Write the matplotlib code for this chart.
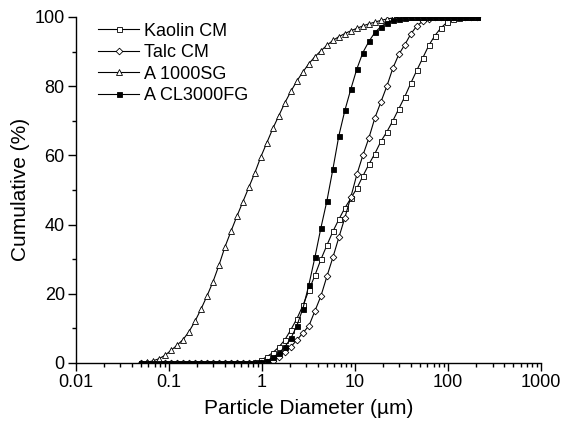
import matplotlib
matplotlib.use("Agg")
import matplotlib.pyplot as plt
from matplotlib.ticker import LogLocator, MultipleLocator, FixedLocator, FixedFormatter

plt.rcParams['font.family'] = ['Liberation Sans', 'DejaVu Sans']

diameters = [0.050, 0.058, 0.0673, 0.0780, 0.0905, 0.105, 0.1218, 0.1413, 0.1639, 0.1901,
             0.2206, 0.2559, 0.2968, 0.3443, 0.3994, 0.4633, 0.5374, 0.6234, 0.7231, 0.8388,
             0.973, 1.1287, 1.3093, 1.5188, 1.7618, 2.0437, 2.3707, 2.750, 3.190, 3.700,
             4.292, 4.979, 5.776, 6.700, 7.772, 9.016, 10.46, 12.13, 14.07, 16.32,
             18.93, 21.96, 25.48, 29.55, 34.28, 39.77, 46.13, 53.51, 62.07, 72.01,
             83.53, 96.89, 112.4, 130.4, 151.3, 175.5, 203.5]

kaolin = [0]*19 + [0.3, 0.8, 1.8, 3.0, 4.6, 6.7, 9.6, 12.8, 16.6, 21.0, 25.3,
                   29.9, 34.0, 38.0, 41.5, 44.8, 47.6, 50.5, 54.0, 57.4, 60.5,
                   64.0, 66.8, 70.0, 73.5, 77.0, 80.9, 84.6, 88.2, 91.8, 94.6,
                   96.8, 98.4, 99.3, 99.8, 100, 100, 100]

talc = [0]*21 + [0.2, 0.7, 1.7, 3.2, 4.7, 6.6, 8.7, 10.7, 15.0,
                 19.3, 25.0, 30.5, 36.3, 42.0, 48.0, 54.5, 60.0, 65.0, 70.8,
                 75.4, 80.0, 85.2, 89.2, 92.0, 95.1, 97.4, 98.8, 99.5, 99.9,
                 100, 100, 100, 100, 100, 100, 100]

a1000sg = [0, 0.2, 0.6, 1.2, 2.2, 3.6, 5.1, 6.7, 9.0, 12.0,
           15.5, 19.3, 23.4, 28.2, 33.5, 38.0, 42.4, 46.6, 50.8, 55.0,
           59.6, 63.7, 67.8, 71.5, 75.2, 78.5, 81.5, 84.1, 86.5, 88.5,
           90.2, 91.8, 93.2, 94.3, 95.2, 96.0, 96.7, 97.4, 98.0, 98.5,
           99.0, 99.4, 99.7, 99.9, 100, 100, 100, 100, 100, 100,
           100, 100, 100, 100, 100, 100, 100]

cl3000fg = [0]*20 + [0.2, 0.6, 1.6, 2.8, 4.7, 7.1, 10.8, 15.7, 22.6, 30.5,
                     39.0, 46.8, 56.0, 65.7, 73.0, 79.2, 85.0, 89.7, 92.9, 95.5,
                     97.2, 98.3, 99.0, 99.5, 99.8, 100, 100, 100, 100, 100,
                     100, 100, 100, 100, 100, 100, 100]

labels = ["Kaolin CM", "Talc CM", "A 1000SG", "A CL3000FG"]
markers = ["s", "D", "^", "s"]
msizes = [3.6, 3.4, 4.0, 3.6]
faces = ["white", "white", "white", "black"]
series = [kaolin, talc, a1000sg, cl3000fg]

fig = plt.figure(figsize=(5.62, 4.23), dpi=100)
ax = fig.add_axes([0.135, 0.142, 0.828, 0.818])

for ys, lab, m, ms, fc in zip(series, labels, markers, msizes, faces):
    ax.plot(diameters, ys, color="black", lw=0.8, marker=m, ms=ms,
            mfc=fc, mec="black", mew=0.6, label=lab)

ax.set_xscale("log")
ax.set_xlim(0.01, 1000)
ax.set_ylim(0, 100)

ax.xaxis.set_major_locator(FixedLocator([0.01, 0.1, 1, 10, 100, 1000]))
ax.xaxis.set_major_formatter(FixedFormatter(["0.01", "0.1", "1", "10", "100", "1000"]))
ax.xaxis.set_minor_locator(LogLocator(base=10, subs=range(2, 10), numticks=20))
ax.yaxis.set_major_locator(MultipleLocator(20))
ax.yaxis.set_minor_locator(MultipleLocator(10))

for s in ["top", "right"]:
    ax.spines[s].set_visible(False)
for s in ["left", "bottom"]:
    ax.spines[s].set_linewidth(1.0)

ax.tick_params(which="major", direction="out", length=6, width=1.0, labelsize=13, pad=2)
ax.tick_params(which="minor", direction="out", length=3, width=1.0)

ax.set_xlabel("Particle Diameter (\u00b5m)", fontsize=15, labelpad=6)
ax.set_ylabel("Cumulative (%)", fontsize=15, labelpad=3)

leg = ax.legend(loc="upper left", frameon=False, fontsize=13, handlelength=2.3,
                handletextpad=0.25, labelspacing=0.25, borderaxespad=0.3,
                bbox_to_anchor=(0.02, 1.02))

fig.savefig("out.png", dpi=100)
